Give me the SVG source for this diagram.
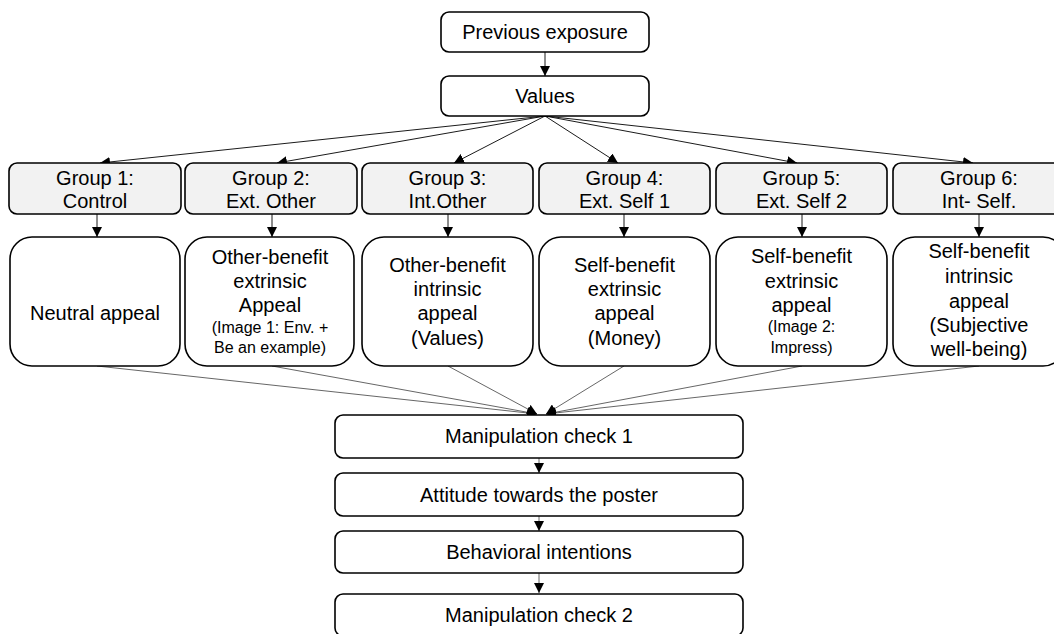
<svg xmlns="http://www.w3.org/2000/svg" width="1054" height="634" viewBox="0 0 1054 634">
  <style>
    .box { fill: #ffffff; stroke: #000; stroke-width: 1.6; }
    .grp { fill: #f2f2f2; stroke: #000; stroke-width: 1.6; }
    .t { font-family: "Liberation Sans", Arial, sans-serif; font-size: 20px; fill: #000; text-anchor: middle; }
    .s { font-size: 16px; }
    .c { stroke: #000; stroke-width: 0.9; fill: none; marker-end: url(#ah); }
    .cg { stroke: #555; stroke-width: 0.9; fill: none; marker-end: url(#ah); }
  </style>
  <defs>
    <marker id="ah" viewBox="0 0 10 10" refX="10" refY="5" markerWidth="10" markerHeight="10" markerUnits="userSpaceOnUse" orient="auto">
      <path d="M0,0 L10,5 L0,10 Z" fill="#000"/>
    </marker>
  </defs>
  <rect width="1054" height="634" fill="#fff"/>

  <g id="connectors">
    <line class="c" x1="545" y1="52" x2="545" y2="76"/>
    <line class="c" x1="545" y1="116" x2="100" y2="163"/>
    <line class="c" x1="545" y1="116" x2="277" y2="163"/>
    <line class="c" x1="545" y1="116" x2="454" y2="163"/>
    <line class="c" x1="545" y1="116" x2="618" y2="163"/>
    <line class="c" x1="545" y1="116" x2="797" y2="163"/>
    <line class="c" x1="545" y1="116" x2="973" y2="163"/>
    <line class="c" x1="97" y1="214" x2="97" y2="237"/>
    <line class="c" x1="272" y1="214" x2="272" y2="237"/>
    <line class="c" x1="448" y1="214" x2="448" y2="237"/>
    <line class="c" x1="624" y1="214" x2="624" y2="237"/>
    <line class="c" x1="802" y1="214" x2="802" y2="237"/>
    <line class="c" x1="979" y1="214" x2="979" y2="237"/>
    <line class="cg" x1="97" y1="366" x2="537" y2="414"/>
    <line class="cg" x1="272" y1="366" x2="537" y2="414"/>
    <line class="cg" x1="448" y1="366" x2="537" y2="414"/>
    <line class="cg" x1="624" y1="366" x2="546" y2="414"/>
    <line class="cg" x1="802" y1="366" x2="546" y2="414"/>
    <line class="cg" x1="979" y1="366" x2="546" y2="414"/>
    <line class="cg" x1="539" y1="458" x2="539" y2="473"/>
    <line class="cg" x1="539" y1="516" x2="539" y2="531"/>
    <line class="cg" x1="539" y1="573" x2="539" y2="593"/>
  </g>

  <g id="previous-exposure">
    <rect class="box" x="441" y="12" width="208" height="40" rx="8"/>
    <text class="t" x="545" y="39">Previous exposure</text>
  </g>
  <g id="values">
    <rect class="box" x="441" y="76" width="208" height="40" rx="8"/>
    <text class="t" x="545" y="103">Values</text>
  </g>

  <g id="group1">
    <rect class="grp" x="9" y="163" width="172" height="51" rx="8"/>
    <text class="t" x="95" y="185">Group 1:</text>
    <text class="t" x="95" y="208">Control</text>
  </g>
  <g id="group2">
    <rect class="grp" x="185" y="163" width="172" height="51" rx="8"/>
    <text class="t" x="271" y="185">Group 2:</text>
    <text class="t" x="271" y="208">Ext. Other</text>
  </g>
  <g id="group3">
    <rect class="grp" x="362" y="163" width="171" height="51" rx="8"/>
    <text class="t" x="447.5" y="185">Group 3:</text>
    <text class="t" x="447.5" y="208">Int.Other</text>
  </g>
  <g id="group4">
    <rect class="grp" x="539" y="163" width="171" height="51" rx="8"/>
    <text class="t" x="624.5" y="185">Group 4:</text>
    <text class="t" x="624.5" y="208">Ext. Self 1</text>
  </g>
  <g id="group5">
    <rect class="grp" x="716" y="163" width="171" height="51" rx="8"/>
    <text class="t" x="801.5" y="185">Group 5:</text>
    <text class="t" x="801.5" y="208">Ext. Self 2</text>
  </g>
  <g id="group6">
    <rect class="grp" x="893" y="163" width="172" height="51" rx="8"/>
    <text class="t" x="979" y="185">Group 6:</text>
    <text class="t" x="979" y="208">Int- Self.</text>
  </g>

  <g id="appeal1">
    <rect class="box" x="10" y="237" width="170" height="129" rx="22"/>
    <text class="t" x="95" y="320">Neutral appeal</text>
  </g>
  <g id="appeal2">
    <rect class="box" x="185" y="237" width="169" height="129" rx="22"/>
    <text class="t" x="270" y="264">Other-benefit</text>
    <text class="t" x="270" y="288">extrinsic</text>
    <text class="t" x="270" y="312">Appeal</text>
    <text class="t s" x="270" y="333">(Image 1: Env. +</text>
    <text class="t s" x="270" y="353">Be an example)</text>
  </g>
  <g id="appeal3">
    <rect class="box" x="362" y="237" width="171" height="129" rx="22"/>
    <text class="t" x="447.5" y="272">Other-benefit</text>
    <text class="t" x="447.5" y="296">intrinsic</text>
    <text class="t" x="447.5" y="320">appeal</text>
    <text class="t" x="447.5" y="345">(Values)</text>
  </g>
  <g id="appeal4">
    <rect class="box" x="539" y="237" width="171" height="129" rx="22"/>
    <text class="t" x="624.5" y="272">Self-benefit</text>
    <text class="t" x="624.5" y="296">extrinsic</text>
    <text class="t" x="624.5" y="320">appeal</text>
    <text class="t" x="624.5" y="345">(Money)</text>
  </g>
  <g id="appeal5">
    <rect class="box" x="716" y="237" width="171" height="129" rx="22"/>
    <text class="t" x="801.5" y="263">Self-benefit</text>
    <text class="t" x="801.5" y="288">extrinsic</text>
    <text class="t" x="801.5" y="312">appeal</text>
    <text class="t s" x="801.5" y="332">(Image 2:</text>
    <text class="t s" x="801.5" y="353">Impress)</text>
  </g>
  <g id="appeal6">
    <rect class="box" x="893" y="237" width="172" height="129" rx="22"/>
    <text class="t" x="979" y="258">Self-benefit</text>
    <text class="t" x="979" y="283">intrinsic</text>
    <text class="t" x="979" y="308">appeal</text>
    <text class="t" x="979" y="332">(Subjective</text>
    <text class="t" x="979" y="356">well-being)</text>
  </g>

  <g id="manipulation-check-1">
    <rect class="box" x="335" y="415" width="408" height="43" rx="8"/>
    <text class="t" x="539" y="443">Manipulation check 1</text>
  </g>
  <g id="attitude">
    <rect class="box" x="335" y="473" width="408" height="43" rx="8"/>
    <text class="t" x="539" y="502">Attitude towards the poster</text>
  </g>
  <g id="behavioral-intentions">
    <rect class="box" x="335" y="531" width="408" height="42" rx="8"/>
    <text class="t" x="539" y="559">Behavioral intentions</text>
  </g>
  <g id="manipulation-check-2">
    <rect class="box" x="335" y="594" width="408" height="42" rx="8"/>
    <text class="t" x="539" y="622">Manipulation check 2</text>
  </g>
</svg>
